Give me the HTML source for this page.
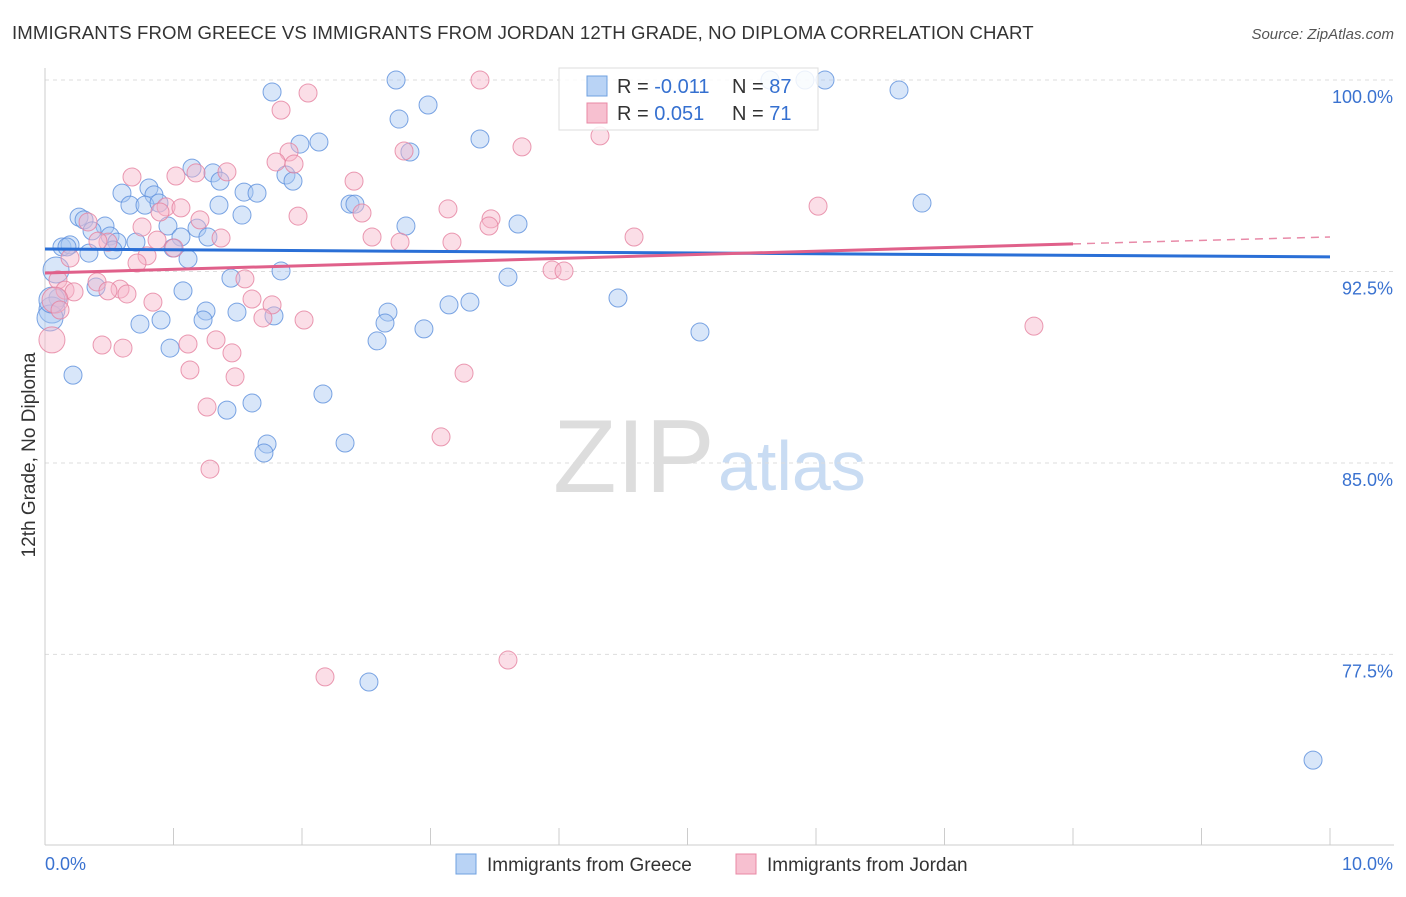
<!DOCTYPE html>
<html><head><meta charset="utf-8"><style>
body{margin:0;background:#fff;font-family:"Liberation Sans",sans-serif;}
svg text{font-family:"Liberation Sans",sans-serif;}
</style></head><body>
<svg id="chart" width="1406" height="892" xmlns="http://www.w3.org/2000/svg">
<text x="12" y="39" font-size="18.6" fill="#333" letter-spacing="0.1">IMMIGRANTS FROM GREECE VS IMMIGRANTS FROM JORDAN 12TH GRADE, NO DIPLOMA CORRELATION CHART</text>
<text x="1394" y="39" font-size="15" fill="#555" text-anchor="end" font-style="italic">Source: ZipAtlas.com</text>
<g>
<text x="553" y="492" font-size="104" fill="#ddd" font-family="Liberation Serif">ZIP</text>
<text x="718" y="490" font-size="70" fill="#c9dcf3">atlas</text>
</g>
<g id="grid"></g>
<g id="axes"></g>
<g id="pts"></g>
<g id="trends"></g>
<text transform="translate(35,455) rotate(-90)" font-size="19" fill="#333" text-anchor="middle">12th Grade, No Diploma</text>
<g>
<rect x="559" y="68" width="259" height="62" fill="#fff" fill-opacity="0.85" stroke="#ddd"/>
<rect x="587" y="76" width="20" height="20" fill="#b9d3f5" stroke="#6fa0e0"/>
<rect x="587" y="103" width="20" height="20" fill="#f7c0d0" stroke="#e888a5"/>
<text x="617" y="93" font-size="20" fill="#333">R = <tspan fill="#3570d0">-0.011</tspan></text>
<text x="732" y="93" font-size="20" fill="#333">N = <tspan fill="#3570d0">87</tspan></text>
<text x="617" y="120" font-size="20" fill="#333">R = <tspan fill="#3570d0"> 0.051</tspan></text>
<text x="732" y="120" font-size="20" fill="#333">N = <tspan fill="#3570d0">71</tspan></text>
</g>
<g>
<rect x="456" y="854" width="20" height="20" fill="#b9d3f5" stroke="#6fa0e0"/>
<text x="487" y="871" font-size="19" fill="#333">Immigrants from Greece</text>
<rect x="736" y="854" width="20" height="20" fill="#f7c0d0" stroke="#e888a5"/>
<text x="767" y="871" font-size="19" fill="#333">Immigrants from Jordan</text>
</g>
</svg>
<script>
const yTicks=[100,92.5,85,77.5];
const yTickLabels=["100.0%","92.5%","85.0%","77.5%"];
const xTicks=[0,1,2,3,4,5,6,7,8,9,10];
const xTickLabels=["0.0%","10.0%"];
const greecePx=[[396,80],[272,92],[428,105],[399,119],[480,139],[319,142],[300,144],[410,152],[192,168],[213,173],[286,175],[293,181],[220,181],[149,188],[122,193],[244,192],[257,193],[154,195],[130,205],[145,205],[159,203],[219,205],[350,204],[355,204],[79,217],[242,215],[84,220],[105,226],[168,226],[197,228],[406,226],[518,224],[92,231],[110,236],[181,237],[208,237],[62,247],[70,245],[67,247],[117,242],[136,242],[113,250],[89,253],[173,248],[188,259],[56,270],[281,271],[231,278],[508,277],[96,287],[183,291],[58,298],[52,310],[50,318],[206,311],[161,320],[140,324],[203,320],[237,312],[274,316],[388,312],[470,302],[449,305],[618,298],[385,323],[424,329],[377,341],[170,348],[73,375],[323,394],[252,403],[227,410],[267,444],[264,453],[345,443],[369,682],[700,332],[922,203],[899,90],[825,80],[770,80],[805,80],[1313,760],[52,300]];
const jordanPx=[[480,80],[308,93],[281,110],[600,136],[522,147],[404,151],[289,152],[276,162],[294,164],[227,172],[196,173],[132,177],[176,176],[354,181],[166,207],[181,208],[160,212],[362,213],[298,216],[448,209],[491,219],[200,220],[88,222],[818,206],[489,226],[372,237],[400,242],[452,242],[634,237],[221,238],[157,240],[174,248],[108,242],[98,241],[142,227],[147,256],[137,263],[70,258],[552,270],[564,271],[245,279],[58,280],[97,282],[65,290],[74,292],[120,289],[108,291],[127,294],[153,302],[252,299],[272,305],[263,318],[304,320],[1034,326],[216,340],[188,344],[102,345],[123,348],[232,353],[190,370],[235,377],[464,373],[207,407],[441,437],[210,469],[508,660],[325,677],[52,340],[55,300],[60,310]];
const greeceX=greecePx.map(p=>+((p[0]-45)/128.5).toFixed(3));
const greeceY=greecePx.map(p=>+(100-(p[1]-80)/25.53).toFixed(2));
const jordanX=jordanPx.map(p=>+((p[0]-45)/128.5).toFixed(3));
const jordanY=jordanPx.map(p=>+(100-(p[1]-80)/25.53).toFixed(2));
const blueTrend=[[0,93.38],[10,93.07]];
const pinkTrend=[[0,92.44],[8,93.58]];
const pinkDash=[[8,93.58],[10,93.85]];

const X=v=>45+v*128.5, Y=v=>80+(100-v)*25.53;
const NS="http://www.w3.org/2000/svg";
function mk(tag,attrs,parent){const e=document.createElementNS(NS,tag);for(const k in attrs)e.setAttribute(k,attrs[k]);document.getElementById(parent).appendChild(e);return e;}
yTicks.forEach((t,i)=>{
 const g=mk('line',{x1:45,x2:1394,y1:Y(t),y2:Y(t),stroke:'#ddd','stroke-dasharray':'4,4'},'grid');
 
 
 const l=mk('text',{x:1393,y:Y(t)+23,'font-size':18,fill:'#3a72d0','text-anchor':'end'},'axes');
 l.textContent=yTickLabels[i];
 
 
});
const ax=mk('line',{x1:45,x2:45,y1:68,y2:845,stroke:'#ccc'},'axes');


const bx=mk('line',{x1:45,x2:1394,y1:845,y2:845,stroke:'#ccc'},'axes');


xTicks.forEach(t=>{
 const e=mk('line',{x1:X(t),x2:X(t),y1:828,y2:845,stroke:'#ccc'},'axes');
 
 
});
[[0,'start',45],[10,'end',1393]].forEach((d,i)=>{
 const e=mk('text',{x:d[2],y:870,'font-size':18,fill:'#3a72d0','text-anchor':d[1]},'axes');
 e.textContent=xTickLabels[i];
 
 
});
function pts(xs,ys,fill,stroke,name){
 xs.forEach((x,i)=>{
  const big=x<0.1;
  const c=mk('circle',{cx:X(x),cy:Y(ys[i]),r:big?13:9,fill:fill,'fill-opacity':0.45,stroke:stroke,'stroke-opacity':0.8,'stroke-width':1},'pts');
  
  
 });
}
pts(greeceX,greeceY,'#a9c8f2','#5b8fdc','greece-point');
pts(jordanX,jordanY,'#f6b6ca','#e5819f','jordan-point');
function line(d,stroke,w,dash,name){
 const e=mk('line',{x1:X(d[0][0]),y1:Y(d[0][1]),x2:X(d[1][0]),y2:Y(d[1][1]),stroke:stroke,'stroke-width':w},'trends');
 if(dash)e.setAttribute('stroke-dasharray',dash);
 
 
}
line(blueTrend,'#2a6fd6',3,null,'greece-trend-line');
line(pinkTrend,'#e0608a',3,null,'jordan-trend-line');
line(pinkDash,'#e88aa8',1.5,'8,6','jordan-trend-extension');
</script>
</body></html>
